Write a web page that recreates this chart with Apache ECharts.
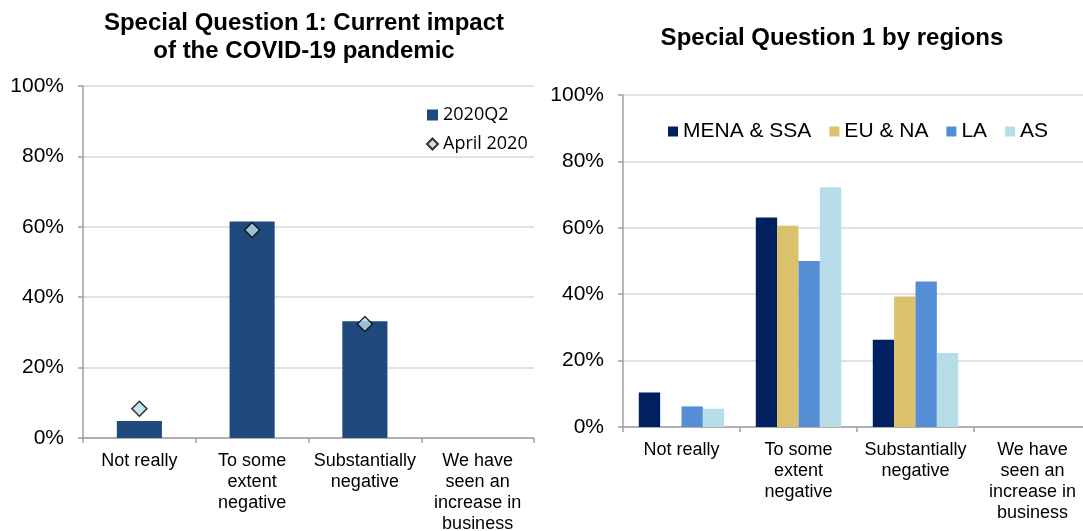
<!DOCTYPE html>
<html>
<head>
<meta charset="utf-8">
<script src="https://cdn.jsdelivr.net/npm/echarts@6/dist/echarts.min.js"></script>
<style>
  html, body { margin: 0; padding: 0; background: #fff; }
  #chart { width: 1083px; height: 531px; }
</style>
</head>
<body>
<div id="chart"></div>
<script>
// categories (shared by both panels)
const categories = [
  'Not really',
  'To some\nextent\nnegative',
  'Substantially\nnegative',
  'We have\nseen an\nincrease in\nbusiness'
];

// left panel: overall, in %
const q2Values = [4.8, 61.5, 33.2, 0];
const aprilValues = [8.3, 59.1, 32.4, null];

// right panel: by regions, in %
const regionNames = ['MENA & SSA', 'EU & NA', 'LA', 'AS'];
const menaValues = [10.4, 63.1, 26.3, 0];
const euValues = [0, 60.6, 39.3, 0];
const laValues = [6.2, 50.0, 43.8, 0];
const asValues = [5.5, 72.2, 22.3, 0];

const regionColors = ['#002060', '#DBC16B', '#558ED5', '#B7DEE8'];

const font = 'Liberation Sans, Arial, sans-serif';
const gridColor = '#D9D9D9';
const axisColor = '#A0A0A0';

function xAxisFor(gridIndex) {
  return {
    type: 'category',
    gridIndex: gridIndex,
    data: categories,
    axisLine: { lineStyle: { color: axisColor, width: 1.5 } },
    axisTick: { show: true, length: 5, alignWithLabel: false, lineStyle: { color: axisColor, width: 1.5 } },
    axisLabel: {
      interval: 0,
      margin: 13,
      color: '#000',
      fontFamily: font,
      fontSize: 18,
      lineHeight: 21
    }
  };
}

function yAxisFor(gridIndex) {
  return {
    type: 'value',
    gridIndex: gridIndex,
    min: 0,
    max: 100,
    interval: 20,
    axisLine: { show: true, lineStyle: { color: axisColor, width: 1.5 } },
    axisTick: { show: true, length: 5, lineStyle: { color: axisColor, width: 1.5 } },
    axisLabel: {
      formatter: '{value}%',
      margin: 19,
      color: '#000',
      fontFamily: font,
      fontSize: 21
    },
    splitLine: { lineStyle: { color: gridColor, width: 1.5 } }
  };
}

const chart = echarts.init(document.getElementById('chart'));

const regionSeries = [menaValues, euValues, laValues, asValues].map((vals, i) => ({
  name: regionNames[i],
  type: 'bar',
  xAxisIndex: 1,
  yAxisIndex: 1,
  data: vals,
  barGap: '0%',
  barCategoryGap: '27%',
  itemStyle: { color: regionColors[i] }
}));

const option = {
  animation: false,
  title: [
    {
      text: 'Special Question 1: Current impact\nof the COVID-19 pandemic',
      left: 299,
      top: 4,
      textAlign: 'center',
      textStyle: { fontFamily: font, fontSize: 24, fontWeight: 'bold', color: '#000', lineHeight: 28 }
    },
    {
      text: 'Special Question 1 by regions',
      left: 827,
      top: 21,
      textAlign: 'center',
      textStyle: { fontFamily: font, fontSize: 24, fontWeight: 'bold', color: '#000' }
    }
  ],
  legend: [
    {
      orient: 'vertical',
      left: 421,
      top: 101,
      itemWidth: 11,
      itemHeight: 11,
      itemGap: 11,
      textStyle: { fontFamily: 'Open Sans, sans-serif', fontSize: 18, color: '#000' },
      data: [
        { name: '2020Q2', icon: 'rect' },
        { name: 'April 2020', icon: 'diamond' }
      ]
    },
    {
      orient: 'horizontal',
      left: 663,
      top: 116,
      itemWidth: 10,
      itemHeight: 10,
      itemGap: 18,
      textStyle: { fontFamily: font, fontSize: 21, color: '#000' },
      data: regionNames.map(n => ({ name: n, icon: 'rect' }))
    }
  ],
  grid: [
    { left: 83, top: 86, width: 451, height: 352, outerBoundsMode: 'none' },
    { left: 623, top: 95, width: 468, height: 332, outerBoundsMode: 'none' }
  ],
  xAxis: [xAxisFor(0), xAxisFor(1)],
  yAxis: [yAxisFor(0), yAxisFor(1)],
  series: [
    {
      name: '2020Q2',
      type: 'bar',
      xAxisIndex: 0,
      yAxisIndex: 0,
      data: q2Values,
      barCategoryGap: '60%',
      itemStyle: { color: '#1F497D' }
    },
    {
      name: 'April 2020',
      type: 'scatter',
      xAxisIndex: 0,
      yAxisIndex: 0,
      data: aprilValues,
      symbol: 'diamond',
      symbolSize: 15,
      itemStyle: { color: '#B7DEE8', borderColor: '#000', borderWidth: 1.5 },
      z: 5
    },
    ...regionSeries
  ]
};

chart.setOption(option);
window.addEventListener('resize', () => {
  chart.resize();
});
</script>
</body>
</html>
